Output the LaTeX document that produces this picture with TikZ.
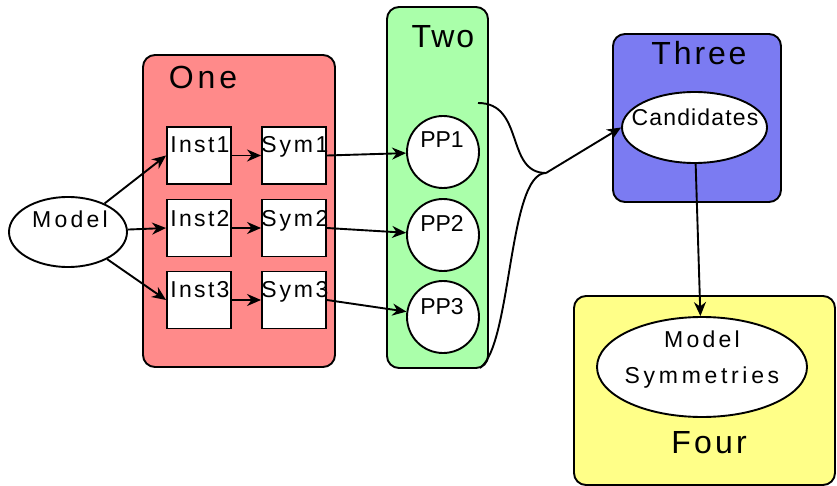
\documentclass[tikz,border=0pt]{standalone}
\usepackage{fontspec}
\setmainfont{Liberation Sans}
\usetikzlibrary{arrows.meta,shapes.geometric}

\definecolor{oneFill}{RGB}{255,138,138}
\definecolor{twoFill}{RGB}{170,255,170}
\definecolor{threeFill}{RGB}{123,123,242}
\definecolor{fourFill}{RGB}{255,255,136}

\tikzset{
  cluster/.style={draw=black, line width=1.9pt, rounded corners=12pt},
  clustertitle/.style={anchor=base, inner sep=0pt,
    font=\fontsize{32}{34}\selectfont\addfontfeatures{LetterSpace=#1}},
  clustertitle/.default=0,
  sqbox/.style={draw=black, fill=white, line width=1.9pt, minimum width=64pt, minimum height=57pt, inner sep=0pt},
  oval/.style={draw=black, fill=white, line width=1.9pt, ellipse, inner sep=0pt},
  ring/.style={draw=black, fill=white, line width=1.9pt, circle, minimum size=72pt, inner sep=0pt},
  lbl/.style={anchor=base, inner sep=0pt,
    font=\fontsize{23}{25}\selectfont\addfontfeatures{LetterSpace=#1}},
  lbl/.default=0,
  link/.style={line width=1.9pt, -{Stealth[length=14pt, width=12pt, inset=4.5pt]}},
  plain/.style={line width=1.9pt},
}

\begin{document}
\begin{tikzpicture}[x=1pt, y=-1pt]
\useasboundingbox (0,0) rectangle (837,486);
\clip (0,0) rectangle (837,486);

% clusters
\draw[cluster, fill=oneFill]   (143,55)  rectangle (335,367);
\draw[cluster, fill=twoFill]   (387,7)   rectangle (488,368);
\draw[cluster, fill=threeFill] (613,34)  rectangle (781,202);
\draw[cluster, fill=fourFill]  (574,296) rectangle (835,485);

\node[clustertitle=12] at (203,89)  {One};
\node[clustertitle=6]  at (443,48)  {Two};
\node[clustertitle=9]  at (699,65)  {Three};
\node[clustertitle=10] at (709,453) {Four};

% model ellipse
\node[oval, minimum width=118pt, minimum height=70pt] (model) at (68,232) {};
\node[lbl=14] at (70,228) {Model};

% instances and symmetry boxes
\node[sqbox] (inst1) at (199,155.5) {};
\node[sqbox] (inst2) at (199,228)   {};
\node[sqbox] (inst3) at (199,300)   {};
\node[sqbox] (sym1)  at (294,155.5) {};
\node[sqbox] (sym2)  at (294,228)   {};
\node[sqbox] (sym3)  at (294,300)   {};

\node[lbl=10] at (200,153) {Inst1};
\node[lbl=10] at (200,226) {Inst2};
\node[lbl=10] at (200,297) {Inst3};
\node[lbl=12] at (295,153) {Sym1};
\node[lbl=12] at (295,226) {Sym2};
\node[lbl=12] at (295,297) {Sym3};

% PP circles
\node[ring] (pp1) at (443,152) {};
\node[ring] (pp2) at (443,235) {};
\node[ring] (pp3) at (443,317) {};
\node[lbl] at (442,148) {PP1};
\node[lbl] at (442,232) {PP2};
\node[lbl] at (442,314) {PP3};

% candidates and final result
\node[oval, minimum width=145pt, minimum height=71pt] (cand) at (694.5,127.5) {};
\node[lbl=5] at (695,126) {Candidates};
\node[oval, minimum width=210pt, minimum height=100pt] (msym) at (702,367) {};
\node[lbl=14] at (702,347) {Model};
\node[lbl=16] at (702,383) {Symmetries};

% edges
\draw[link] (model) -- (inst1.west);
\draw[link] (model) -- (inst2.west);
\draw[link] (model) -- (inst3.west);
\draw[link] (inst1) -- (sym1);
\draw[link] (inst2) -- (sym2);
\draw[link] (inst3) -- (sym3);
\draw[link] (sym1.east) -- (pp1);
\draw[link] (sym2.east) -- (pp2);
\draw[link] (sym3.east) -- (pp3);

% merged edge from cluster Two into cluster Three
\coordinate (twoTop) at (478,103);
\coordinate (twoBot) at (480,368);
\coordinate (merge)  at (546,173);
\draw[plain] (twoTop) .. controls (525,103) and (505,173) .. (merge);
\draw[plain] (twoBot) .. controls (512,345) and (508,173) .. (merge);
\draw[link] (merge) -- (cand.west);

\draw[link] (cand) -- (msym);
\end{tikzpicture}
\end{document}
